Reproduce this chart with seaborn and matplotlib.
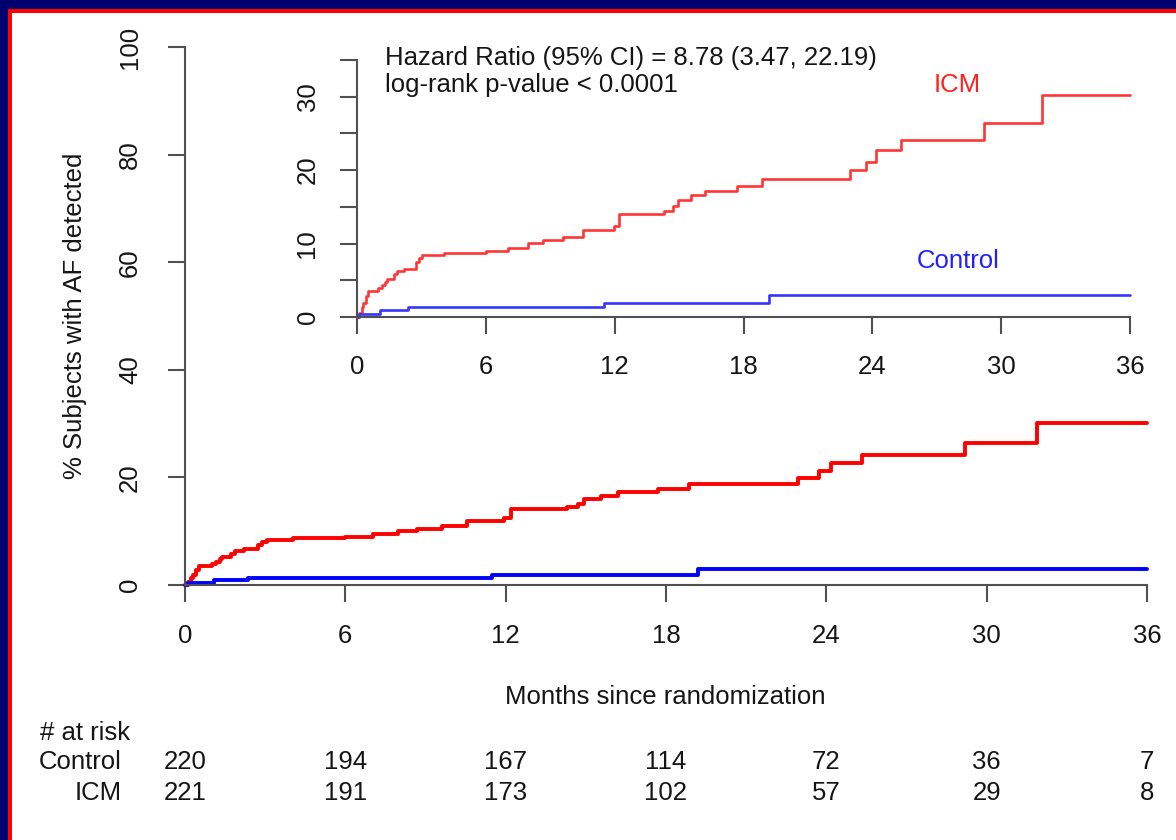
import matplotlib
matplotlib.use("Agg")
import matplotlib.pyplot as plt
import matplotlib.transforms as mtransforms
from matplotlib.patches import Rectangle
import numpy as np
import pandas as pd
import seaborn as sns

# ---------------- data ----------------
icm_t = [0, 0.11, 0.22, 0.29, 0.42, 0.53, 1.0, 1.15, 1.3, 1.4, 1.72, 1.88, 2.19, 2.73, 2.9,
         3.05, 4.05, 5.99, 7.03, 7.98, 8.68, 9.61, 10.54, 11.95, 12.2, 14.28, 14.71, 14.93,
         15.55, 16.22, 17.7, 18.86, 22.95, 23.72, 24.19, 25.35, 29.2, 31.9, 36]
icm_v = [0, 0.5, 1.3, 1.9, 2.8, 3.55, 3.9, 4.3, 4.8, 5.2, 5.8, 6.3, 6.6, 7.5, 8.0,
         8.4, 8.7, 8.95, 9.4, 10.05, 10.5, 10.96, 11.87, 12.4, 14.05, 14.5, 15.1, 15.9,
         16.55, 17.2, 17.9, 18.8, 19.96, 21.1, 22.7, 24.1, 26.4, 30.2, 30.2]
ctrl_t = [0, 0.1, 1.08, 2.36, 11.5, 19.2, 36]
ctrl_v = [0, 0.45, 0.9, 1.37, 1.85, 3.05, 3.05]

x_ticks = [0, 6, 12, 18, 24, 30, 36]
main_y_ticks = [0, 20, 40, 60, 80, 100]
inset_y_ticks = [0, 5, 10, 15, 20, 25, 30, 35]
inset_y_labels = ["0", "", "10", "", "20", "", "30", ""]
risk_control = [220, 194, 167, 114, 72, 36, 7]
risk_icm = [221, 191, 173, 102, 57, 29, 8]

hr_text = "Hazard Ratio (95% CI) = 8.78 (3.47, 22.19)"
p_text = "log-rank p-value < 0.0001"

df = pd.DataFrame({
    "t": icm_t + ctrl_t,
    "v": icm_v + ctrl_v,
    "group": ["ICM"] * len(icm_t) + ["Control"] * len(ctrl_t),
})

# ---------------- style ----------------
sns.set_style("ticks")
plt.rcParams["font.family"] = ["Liberation Sans", "DejaVu Sans"]
TXT = "#151515"
AXC = "#505050"
FS = 18.5

W, H = 1176, 840
fig = plt.figure(figsize=(W / 100, H / 100), dpi=100, facecolor="#00006E")
fig.patches.append(Rectangle((8 / W, -0.1), 1.2, (H - 9) / H + 0.1, transform=fig.transFigure,
                             facecolor="#FF0000", edgecolor="none", zorder=-10))
fig.patches.append(Rectangle((12 / W, -0.1), 1.2, (H - 13) / H + 0.1, transform=fig.transFigure,
                             facecolor="white", edgecolor="none", zorder=-9))


def style_axes(ax, ypad, xpad):
    sns.despine(ax=ax)
    ax.set_facecolor("none")
    for s in ["left", "bottom"]:
        ax.spines[s].set_color(AXC)
        ax.spines[s].set_linewidth(1.5)
    ax.tick_params(axis="both", direction="out", length=12, width=1.5, color=AXC,
                   labelsize=FS, labelcolor=TXT)
    ax.tick_params(axis="y", pad=ypad)
    ax.tick_params(axis="x", pad=xpad)
    for lab in ax.get_yticklabels():
        lab.set_rotation(90)
        lab.set_va("center")
        lab.set_ha("right")
    ax.set_xlabel("")
    ax.set_ylabel("")


# ---------------- main axes ----------------
ax = fig.add_axes([185 / W, 1 - 585 / H, 962 / W, 538 / H])
sns.lineplot(data=df, x="t", y="v", hue="group", palette={"ICM": "#FF0000", "Control": "#0000FF"},
             drawstyle="steps-post", estimator=None, legend=False, lw=2.8, ax=ax)
for ln in ax.lines:
    ln.set_clip_on(False)
ax.set_xlim(0, 36)
ax.set_ylim(0, 100)
ax.set_xticks(x_ticks)
ax.set_yticks(main_y_ticks)
style_axes(ax, ypad=19, xpad=16)

fig.text(75 / W, 1 - 316 / H, "% Subjects with AF detected", rotation=90, ha="center", va="center",
         fontsize=FS, color=TXT)
fig.text(665 / W, 1 - 697 / H, "Months since randomization", ha="center", va="center",
         fontsize=FS, color=TXT)

# risk table
bt = mtransforms.blended_transform_factory(ax.transData, fig.transFigure)
fig.text(40 / W, 1 - 733 / H, "# at risk", ha="left", va="center", fontsize=FS, color=TXT)
fig.text(122 / W, 1 - 762 / H, "Control", ha="right", va="center", fontsize=FS, color=TXT)
fig.text(122 / W, 1 - 793 / H, "ICM", ha="right", va="center", fontsize=FS, color=TXT)
for xt, c, i in zip(x_ticks, risk_control, risk_icm):
    ax.text(xt, 1 - 762 / H, str(c), transform=bt, ha="center", va="center", fontsize=FS, color=TXT)
    ax.text(xt, 1 - 793 / H, str(i), transform=bt, ha="center", va="center", fontsize=FS, color=TXT)

# ---------------- inset axes ----------------
ax2 = fig.add_axes([357 / W, 1 - 317 / H, 773 / W, 257 / H])
sns.lineplot(data=df, x="t", y="v", hue="group", palette={"ICM": "#FF3535", "Control": "#3535FF"},
             drawstyle="steps-post", estimator=None, legend=False, lw=1.9, ax=ax2)
for ln in ax2.lines:
    ln.set_clip_on(False)
ax2.set_xlim(0, 36)
ax2.set_ylim(0, 35)
ax2.set_xticks(x_ticks)
ax2.set_yticks(inset_y_ticks)
ax2.set_yticklabels(inset_y_labels)
style_axes(ax2, ypad=15, xpad=15)

fig.text(385 / W, 1 - 58 / H, hr_text, ha="left", va="center", fontsize=FS, color=TXT)
fig.text(385 / W, 1 - 85 / H, p_text, ha="left", va="center", fontsize=FS, color=TXT)
fig.text(957 / W, 1 - 85 / H, "ICM", ha="center", va="center", fontsize=FS, color="#FF2020")
fig.text(958 / W, 1 - 261 / H, "Control", ha="center", va="center", fontsize=FS, color="#2020FF")

fig.savefig("out.png", dpi=100, facecolor=fig.get_facecolor())
